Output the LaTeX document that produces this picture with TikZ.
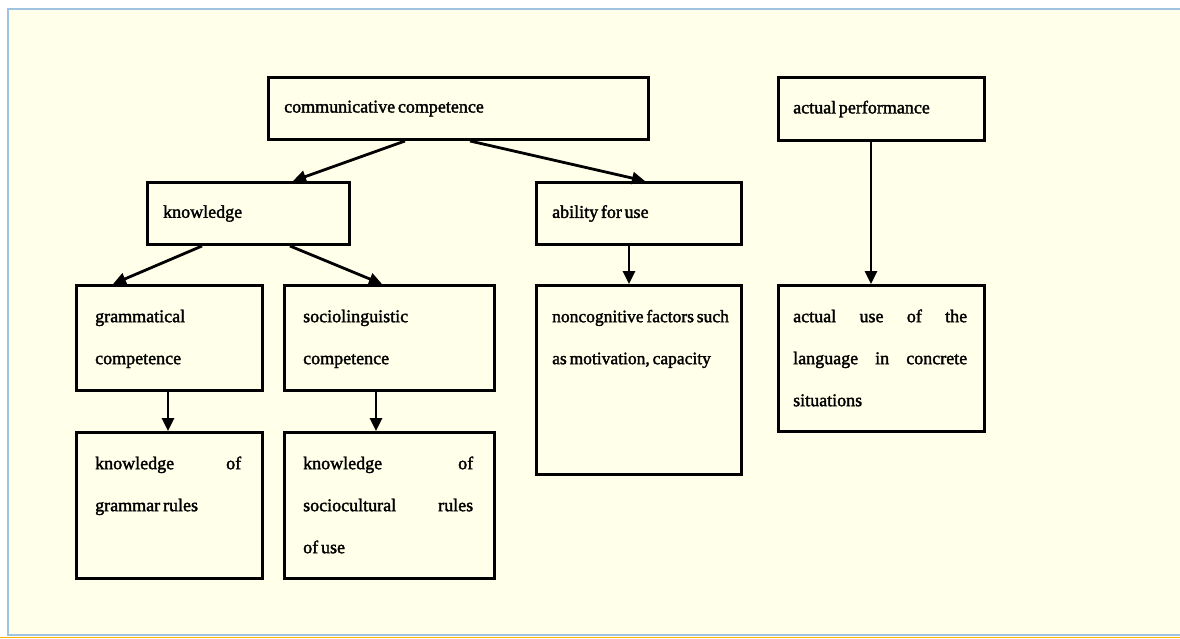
\documentclass[tikz,border=0pt]{standalone}
\usepackage{fontspec}
\setmainfont{Liberation Serif}[RawFeature={embolden=1.8}, WordSpace=0.6]
\usetikzlibrary{arrows.meta,calc}
\definecolor{cream}{RGB}{255,255,234}
\definecolor{frameblue}{RGB}{160,195,225}
\tikzset{
  box/.style={draw=black, line width=3pt, rectangle, inner sep=0pt, anchor=north west},
  lbl/.style={inner sep=0pt, anchor=west, font=\fontsize{18}{42}\selectfont},
  para/.style={inner sep=0pt, anchor=north west, align=left, font=\fontsize{18}{42}\selectfont},
  arr/.style={line width=2.8pt, -{Triangle[length=13pt,width=12pt]}}
}
\newcommand{\topstrut}{\spaceskip=0.16em\relax\rule{0pt}{13pt}}
\begin{document}
\begin{tikzpicture}[x=1pt,y=-1pt]
\useasboundingbox (0,0) rectangle (1180,638);
\fill[white] (0,0) rectangle (1180,638);
\fill[cream] (8,9) rectangle (1180,635);
\draw[frameblue, line width=2pt] (1180,9) -- (8,9) -- (8,635) -- (1180,635);
\fill[orange!60!yellow] (0,637) rectangle (1180,638);

% boxes
\node[box, minimum width=380pt, minimum height=62pt] (comm) at (267,76) {};
\node[box, minimum width=206pt, minimum height=63pt] (perf) at (777,76) {};
\node[box, minimum width=202pt, minimum height=62pt] (know) at (146,181) {};
\node[box, minimum width=205pt, minimum height=62pt] (abil) at (535,181) {};
\node[box, minimum width=186pt, minimum height=105pt] (gram) at (75,284) {};
\node[box, minimum width=210pt, minimum height=105pt] (socio) at (283,284) {};
\node[box, minimum width=186pt, minimum height=146pt] (kgr) at (75,431) {};
\node[box, minimum width=210pt, minimum height=146pt] (ksr) at (283,431) {};
\node[box, minimum width=205pt, minimum height=189pt] (noncog) at (535,284) {};
\node[box, minimum width=206pt, minimum height=146pt] (use) at (777,284) {};

% single-line texts
\node[lbl] (commt) at ($(comm.west)+(17,0)$) {communicative competence};
\node[lbl] (perft) at ($(perf.west)+(16,0)$) {actual performance};
\node[lbl] (knowt) at ($(know.west)+(17,0)$) {knowledge};
\node[lbl] (abilt) at ($(abil.west)+(17,0)$) {ability for use};

% multi-line texts
\node[para, text width=146pt] (gramt) at ($(gram.north west)+(20,25)$) {\topstrut grammatical\\competence};
\node[para, text width=170pt] (sociot) at ($(socio.north west)+(20,25)$) {\topstrut sociolinguistic\\competence};
\node[para, text width=146pt] (kgrt) at ($(kgr.north west)+(20,25)$) {\topstrut knowledge\hfill of\\grammar rules};
\node[para, text width=170pt] (ksrt) at ($(ksr.north west)+(20,25)$) {\topstrut knowledge\hfill of\\sociocultural\hfill rules\\of use};
\node[para, text width=190pt, font=\fontsize{17.5}{42}\selectfont] (noncogt) at ($(noncog.north west)+(17,25)$) {\topstrut noncognitive factors such\\as motivation, capacity};
\node[para, text width=174pt] (uset) at ($(use.north west)+(16,25)$) {\topstrut actual\hfill use\hfill of\hfill the\\language\hfill in\hfill concrete\\situations};

% connectors
\draw[arr] ($(comm.south west)+(138,0)$) -- ($(know.north west)+(147,0)$);
\draw[arr] ($(comm.south west)+(203,0)$) -- ($(abil.north west)+(110,0)$);
\draw[arr] ($(know.south west)+(56,0)$) -- ($(gram.north west)+(38,0)$);
\draw[arr] ($(know.south west)+(144,0)$) -- ($(socio.north west)+(99,0)$);
\draw[arr] ($(abil.south west)+(94,0)$) -- ($(noncog.north west)+(94,0)$);
\draw[arr] ($(gram.south west)+(93,0)$) -- ($(kgr.north west)+(93,0)$);
\draw[arr] ($(socio.south west)+(93,0)$) -- ($(ksr.north west)+(93,0)$);
\draw[arr] ($(perf.south west)+(94,0)$) -- ($(use.north west)+(94,0)$);
\end{tikzpicture}
\end{document}
